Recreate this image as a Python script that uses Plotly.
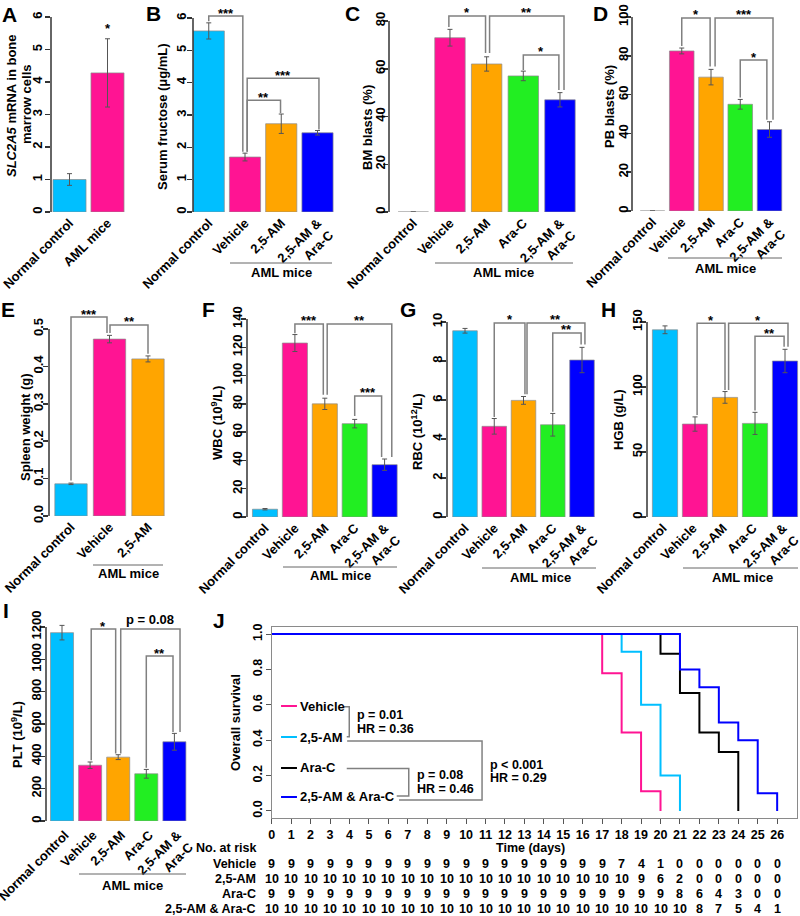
import plotly.graph_objects as go

W, H = 800, 916
FONT = "Liberation Sans"


def F(size=13, color="black"):
    return dict(family=FONT, size=size, color=color, weight="bold")


def pxx(x):
    return x / W


def pyy(y):
    return 1 - y / H


# ---------------- colours ----------------
C_NORMAL = "#00BFFF"
C_VEH = "#FF1493"
C_AM = "#FFA500"
C_ARA = "#22EE22"
C_COMBO = "#0000FF"

# ---------------- data ----------------
lab_a = ["Normal control", "AML mice"]
lab_b = ["Normal control", "Vehicle", "2,5-AM", "2,5-AM &<br>Ara-C"]
lab_e = ["Normal control", "Vehicle", "2,5-AM"]
lab_5 = ["Normal control", "Vehicle", "2,5-AM", "Ara-C", "2,5-AM &<br>Ara-C"]

col_a = [C_NORMAL, C_VEH]
col_b = [C_NORMAL, C_VEH, C_AM, C_COMBO]
col_e = [C_NORMAL, C_VEH, C_AM]
col_5 = [C_NORMAL, C_VEH, C_AM, C_ARA, C_COMBO]

a_vals = [1.0, 4.28]
a_err = [0.18, 1.05]
b_vals = [5.6, 1.7, 2.73, 2.45]
b_err = [0.25, 0.12, 0.3, 0.07]
c_vals = [0, 73, 62, 57, 47]
c_err = [0, 3.5, 3, 2, 3]
d_vals = [0, 82.5, 69, 55, 42]
d_err = [0, 1.5, 4, 2.5, 4]
e_vals = [0.086, 0.473, 0.42]
e_err = [0.002, 0.01, 0.008]
f_vals = [5.5, 123, 80, 66, 37]
f_err = [0.5, 6, 4, 3, 4]
g_vals = [9.55, 4.65, 5.98, 4.73, 8.05]
g_err = [0.12, 0.4, 0.2, 0.58, 0.65]
h_vals = [144, 71.5, 92, 72, 120]
h_err = [3, 5.5, 4.5, 8.5, 9]
i_vals = [1165, 345, 395, 292, 490]
i_err = [45, 20, 15, 27, 52]

a_ticks = [0, 1, 2, 3, 4, 5, 6]
b_ticks = [0, 1, 2, 3, 4, 5, 6]
c_ticks = [0, 20, 40, 60, 80]
d_ticks = [0, 20, 40, 60, 80, 100]
e_ticks = [0.0, 0.1, 0.2, 0.3, 0.4, 0.5]
f_ticks = [0, 20, 40, 60, 80, 100, 120, 140]
g_ticks = [0, 2, 4, 6, 8, 10]
h_ticks = [0, 50, 100, 150]
i_ticks = [0, 200, 400, 600, 800, 1000, 1200]

# survival (Kaplan-Meier steps)
km_names = ["Vehicle", "2,5-AM", "Ara-C", "2,5-AM & Ara-C"]
km_colors = [C_VEH, C_NORMAL, "black", C_COMBO]
km_days_veh = [0, 17, 18, 19, 20]
km_surv_veh = [1.0, 0.778, 0.444, 0.111, 0.0]
km_days_am = [0, 18, 19, 20, 21]
km_surv_am = [1.0, 0.9, 0.6, 0.2, 0.0]
km_days_ara = [0, 20, 21, 22, 23, 24]
km_surv_ara = [1.0, 0.889, 0.667, 0.444, 0.333, 0.0]
km_days_combo = [0, 21, 22, 23, 24, 25, 26]
km_surv_combo = [1.0, 0.8, 0.7, 0.5, 0.4, 0.1, 0.0]
km_ticks_x = list(range(27))
km_ticks_y = [0.0, 0.2, 0.4, 0.6, 0.8, 1.0]

risk_times = list(range(27))
risk_veh = [9, 9, 9, 9, 9, 9, 9, 9, 9, 9, 9, 9, 9, 9, 9, 9, 9, 9, 7, 4, 1, 0, 0, 0, 0, 0, 0]
risk_am = [10, 10, 10, 10, 10, 10, 10, 10, 10, 10, 10, 10, 10, 10, 10, 10, 10, 10, 10, 9, 6, 2, 0, 0, 0, 0, 0]
risk_ara = [9, 9, 9, 9, 9, 9, 9, 9, 9, 9, 9, 9, 9, 9, 9, 9, 9, 9, 9, 9, 9, 8, 6, 4, 3, 0, 0]
risk_combo = [10, 10, 10, 10, 10, 10, 10, 10, 10, 10, 10, 10, 10, 10, 10, 10, 10, 10, 10, 10, 10, 10, 8, 7, 5, 4, 1]

# ---------------- figure ----------------
fig = go.Figure()
layout = {}
shapes = []
annots = []

AX_COL = "#333333"
BR_COL = "#808080"


def ax_names(n):
    return ("x" if n == 1 else f"x{n}"), ("y" if n == 1 else f"y{n}")


def bar_panel(n, labels, vals, errs, colors, yticks, g, brackets, tickfmt=None):
    xa, ya = ax_names(n)
    xs = list(range(len(vals)))
    fig.add_trace(go.Bar(
        x=xs, y=vals, width=g["bw"],
        marker=dict(color=colors, line=dict(color="#8c8c8c", width=0.7)),
        error_y=dict(type="data", array=errs, color="#555555", thickness=1, width=2.5),
        xaxis=xa, yaxis=ya, showlegend=False, hoverinfo="skip"))
    x0 = (g["xl"] - g["c0"]) / g["step"]
    x1 = (g["xr"] - g["c0"]) / g["step"]
    ymax = yticks[-1] * (g["y0"] - g["ytop"]) / (g["y0"] - g["yt"])
    kx = "xaxis" if n == 1 else f"xaxis{n}"
    ky = "yaxis" if n == 1 else f"yaxis{n}"
    layout[kx] = dict(domain=[pxx(g["xl"]), pxx(g["xr"])], range=[x0, x1], anchor=ya,
                      tickvals=xs, ticktext=labels, tickangle=-45, showline=False,
                      showgrid=False, zeroline=False, ticks="", tickfont=F(13),
                      fixedrange=True, automargin=False, ticklabeloverflow="allow",
                      ticklabelshift=g.get("xsh", 0), ticklabelstandoff=g.get("xso", 0))
    yax = dict(domain=[pyy(g["y0"]), pyy(g["ytop"])], range=[0, ymax], anchor=xa,
               tickvals=yticks, tickangle=-90, ticks="outside", ticklen=5,
               tickwidth=1.5, tickcolor=AX_COL, showline=False, showgrid=False,
               zeroline=False, tickfont=F(13), fixedrange=True, automargin=False,
               ticklabelstandoff=g["sto"], ticklabeloverflow="allow")
    if tickfmt:
        yax["tickformat"] = tickfmt
    layout[ky] = yax
    shapes.append(dict(type="line", xref=f"{xa} domain", yref=ya, x0=0, x1=0,
                       y0=yticks[0], y1=yticks[-1], line=dict(color=AX_COL, width=1.5)))
    for (lab, xl, xr, yb, yl, yr) in brackets:
        shapes.append(dict(type="path", xref=xa, yref=ya,
                           path=f"M {xl},{yl} L {xl},{yb} L {xr},{yb} L {xr},{yr}",
                           line=dict(color=BR_COL, width=1.5)))
        if lab.startswith("p"):
            annots.append(dict(x=(xl + xr) / 2, y=yb, xref=xa, yref=ya, text=lab,
                               showarrow=False, yanchor="bottom", yshift=0, font=F(13)))
        else:
            annots.append(dict(x=(xl + xr) / 2, y=yb, xref=xa, yref=ya, text=lab,
                               showarrow=False, yanchor="middle", yshift=3, font=F(13)))


# panel geometry (pixels) -------------------------------------------------
geo = {
    "A": dict(xl=51, c0=69.5, step=38, xr=127, y0=212, yt=17, ytop=8, bw=0.87, sto=-2),
    "B": dict(xl=193, c0=208.75, step=36.25, xr=336, y0=212, yt=18, ytop=4, bw=0.86, sto=-4),
    "C": dict(xl=389, c0=413.3, step=36.67, xr=578, y0=212, yt=21, ytop=4, bw=0.83, sto=-7),
    "D": dict(xl=632, c0=652.5, step=29.25, xr=785, y0=211, yt=17, ytop=4, bw=0.84, sto=-7),
    "E": dict(xl=49, c0=71, step=38.5, xr=167, y0=516, yt=329, ytop=305, bw=0.84, sto=-5),
    "F": dict(xl=247, c0=265, step=29.9, xr=400, y0=517, yt=319, ytop=308, bw=0.84, sto=-6),
    "G": dict(xl=447, c0=465, step=29.25, xr=597, y0=517, yt=322, ytop=308, bw=0.84, sto=-6),
    "H": dict(xl=647, c0=665, step=30, xr=800, y0=517, yt=322, ytop=308, bw=0.84, sto=-6,
              xsh=-2),
    "I": dict(xl=46, c0=62, step=28.1, xr=189, y0=821, yt=627, ytop=606, bw=0.82, sto=-6,
              xsh=3, xso=3),
}

br_a = []
br_b = [("***", 0.0, 0.94, 6.06, 5.9, 1.86),
        ("**", 1.06, 1.98, 3.46, 1.86, 3.06),
        ("***", 1.06, 3.04, 4.14, 1.86, 2.55)]
br_c = [("*", 0.97, 1.97, 82.1, 77.5, 66.6),
        ("**", 2.08, 4.11, 82.1, 66.6, 51.1),
        ("*", 3.0, 3.97, 65.8, 59.5, 51.1)]
br_d = [("*", 1.0, 1.97, 99.5, 85.0, 74.5),
        ("***", 2.14, 4.12, 99.5, 74.5, 47.0),
        ("*", 3.0, 3.91, 77.8, 58.5, 47.0)]
br_e = [("***", 0.0, 0.935, 0.532, 0.095, 0.489),
        ("**", 1.013, 2.0, 0.511, 0.489, 0.434)]
br_f = [("***", 1.0, 1.95, 136.5, 130, 86.5),
        ("**", 2.08, 4.24, 136.5, 86.5, 42.5),
        ("***", 3.0, 3.9, 85.6, 71.5, 42.5)]
br_g = [("*", 1.0, 2.05, 9.95, 5.13, 6.3),
        ("**", 2.12, 4.1, 9.95, 6.3, 8.85),
        ("**", 3.0, 3.97, 9.44, 5.4, 8.85)]
br_h = [("*", 1.07, 2.0, 149, 78.5, 97.7),
        ("*", 2.12, 4.1, 149, 97.7, 131),
        ("**", 3.0, 3.97, 139, 82, 131)]
br_i = [("*", 1.04, 1.91, 1187, 375, 418),
        ("p = 0.08", 2.09, 4.2, 1187, 418, 550),
        ("**", 3.0, 3.95, 1020, 330, 550)]

bar_panel(1, lab_a, a_vals, a_err, col_a, a_ticks, geo["A"], br_a)
bar_panel(2, lab_b, b_vals, b_err, col_b, b_ticks, geo["B"], br_b)
bar_panel(3, lab_5, c_vals, c_err, col_5, c_ticks, geo["C"], br_c)
bar_panel(4, lab_5, d_vals, d_err, col_5, d_ticks, geo["D"], br_d)
bar_panel(5, lab_e, e_vals, e_err, col_e, e_ticks, geo["E"], br_e, tickfmt=".1f")
bar_panel(6, lab_5, f_vals, f_err, col_5, f_ticks, geo["F"], br_f)
bar_panel(7, lab_5, g_vals, g_err, col_5, g_ticks, geo["G"], br_g)
bar_panel(8, lab_5, h_vals, h_err, col_5, h_ticks, geo["H"], br_h)
bar_panel(9, lab_5, i_vals, i_err, col_5, i_ticks, geo["I"], br_i)

# star on panel A
annots.append(dict(x=1, y=5.54, xref="x", yref="y", text="*", showarrow=False,
                   yanchor="middle", yshift=3, font=F(13)))

# ---------------- panel J : survival ----------------
for days, surv, col in [(km_days_veh, km_surv_veh, km_colors[0]),
                        (km_days_am, km_surv_am, km_colors[1]),
                        (km_days_ara, km_surv_ara, km_colors[2]),
                        (km_days_combo, km_surv_combo, km_colors[3])]:
    fig.add_trace(go.Scatter(x=days, y=surv, mode="lines",
                             line=dict(shape="hv", color=col, width=2),
                             xaxis="x10", yaxis="y10", showlegend=False, hoverinfo="skip"))

layout["xaxis10"] = dict(domain=[pxx(271.7), pxx(796.6)], range=[0, 27], anchor="y10",
                         tickvals=km_ticks_x, ticks="outside", ticklen=5, tickwidth=1,
                         tickcolor="#555", showline=True, mirror=True, linecolor="#8a8a8a",
                         linewidth=1.2, showgrid=False, zeroline=False, tickfont=F(12.5),
                         fixedrange=True, automargin=False, ticklabeloverflow="allow")
layout["yaxis10"] = dict(domain=[pyy(818), pyy(627)], range=[-0.04, 1.04], anchor="x10",
                         tickvals=km_ticks_y, tickformat=".1f", tickangle=-90, ticks="outside",
                         ticklen=5, tickwidth=1, tickcolor="#555", showline=True, mirror=True,
                         linecolor="#8a8a8a", linewidth=1.2, showgrid=False, zeroline=False,
                         tickfont=F(12.5), fixedrange=True, automargin=False,
                         ticklabelstandoff=-1, ticklabeloverflow="allow")

# legend inside J
leg_y = [0.593, 0.418, 0.243, 0.079]
for name, col, yy in zip(km_names, km_colors, leg_y):
    shapes.append(dict(type="line", xref="x10", yref="y10", x0=0.48, x1=1.3, y0=yy, y1=yy,
                       line=dict(color=col, width=2)))
    annots.append(dict(x=1.36, y=yy, xref="x10", yref="y10", text=name, showarrow=False,
                       xanchor="left", yanchor="middle", font=F(13)))

# comparison brackets in J
j_brackets = [
    "M 3.72,0.589 L 3.99,0.589 L 3.99,0.42 L 3.86,0.42",
    "M 3.88,0.395 L 10.82,0.395 L 10.82,0.062 L 6.55,0.062",
    "M 3.86,0.240 L 7.05,0.240 L 7.05,0.085 L 6.43,0.085",
]
for p in j_brackets:
    shapes.append(dict(type="path", xref="x10", yref="y10", path=p,
                       line=dict(color=BR_COL, width=1.5)))
j_texts = [(4.28, 0.541, "p = 0.01"), (4.28, 0.465, "HR = 0.36"),
           (7.38, 0.202, "p = 0.08"), (7.38, 0.126, "HR = 0.46"),
           (11.13, 0.260, "p < 0.001"), (11.13, 0.184, "HR = 0.29")]
for xx, yy, t in j_texts:
    annots.append(dict(x=xx, y=yy, xref="x10", yref="y10", text=t, showarrow=False,
                       xanchor="left", yanchor="middle", font=F(12.5)))

# number at risk table
annots.append(dict(x=pxx(258), y=pyy(848), xref="paper", yref="paper", text="No. at risk",
                   showarrow=False, xanchor="right", yanchor="middle", font=F(12.5)))
annots.append(dict(x=13.3, y=pyy(848), xref="x10", yref="paper", text="Time (days)",
                   showarrow=False, xanchor="center", yanchor="middle", font=F(12.5)))
risk_rows = [("Vehicle", risk_veh, 864), ("2,5-AM", risk_am, 879),
             ("Ara-C", risk_ara, 894), ("2,5-AM & Ara-C", risk_combo, 909)]
for name, vals, ypix in risk_rows:
    annots.append(dict(x=pxx(258), y=pyy(ypix), xref="paper", yref="paper", text=name,
                       showarrow=False, xanchor="right", yanchor="middle", font=F(12.5)))
    for t, v in zip(risk_times, vals):
        annots.append(dict(x=t, y=pyy(ypix), xref="x10", yref="paper", text=str(v),
                           showarrow=False, xanchor="center", yanchor="middle", font=F(12.5)))

# ---------------- titles, letters, group labels ----------------
ytitles = [
    (11, 106, "<i>SLC2A5</i> mRNA in bone"), (26, 104, "marrow cells"),
    (163, 117, "Serum fructose (μg/mL)"), (367, 128, "BM blasts (%)"),
    (610, 107, "PB blasts (%)"), (25, 427, "Spleen weight (g)"),
    (217, 423, "WBC (10<sup>9</sup>/L)"), (417, 432, "RBC (10<sup>12</sup>/L)"),
    (618, 420, "HGB (g/L)"), (17, 735, "PLT (10<sup>9</sup>/L)"),
    (235, 723, "Overall survival"),
]
for x, y, t in ytitles:
    annots.append(dict(x=pxx(x), y=pyy(y), xref="paper", yref="paper", text=t,
                       showarrow=False, textangle=-90, xanchor="center", yanchor="middle",
                       font=F(13)))

letters = [(9, 15, "A"), (153, 13, "B"), (352, 13, "C"), (600, 13, "D"),
           (8, 309, "E"), (208, 309, "F"), (408, 310, "G"), (608, 310, "H"),
           (6, 610, "I"), (219, 620, "J")]
for x, y, t in letters:
    annots.append(dict(x=pxx(x), y=pyy(y), xref="paper", yref="paper", text=t,
                       showarrow=False, xanchor="center", yanchor="middle", font=F(21)))

groups = [(230, 332, 263, 281, 272), (435, 573, 263, 503, 272), (668, 782, 258, 725, 268),
          (93, 163, 565, 128, 573), (283, 397, 567, 340, 575), (482, 596, 568, 540, 577),
          (683, 798, 568, 742, 577), (79, 186, 874, 132, 885)]
for x0, x1, yl, xt, yt in groups:
    shapes.append(dict(type="line", xref="paper", yref="paper", x0=pxx(x0), x1=pxx(x1),
                       y0=pyy(yl), y1=pyy(yl), line=dict(color="#666", width=1)))
    annots.append(dict(x=pxx(xt), y=pyy(yt), xref="paper", yref="paper", text="AML mice",
                       showarrow=False, xanchor="center", yanchor="middle", font=F(13)))

fig.update_layout(**layout)
fig.update_layout(width=W, height=H,
                  margin=dict(l=0, r=0, t=0, b=0, pad=0, autoexpand=False),
                  paper_bgcolor="white", plot_bgcolor="white", shapes=shapes,
                  annotations=annots, showlegend=False, bargap=0,
                  font=F(13))
fig.write_html("out.html", config={"displayModeBar": False, "staticPlot": True},
               post_script="document.body.style.margin='0px';document.body.style.overflow='hidden';")
